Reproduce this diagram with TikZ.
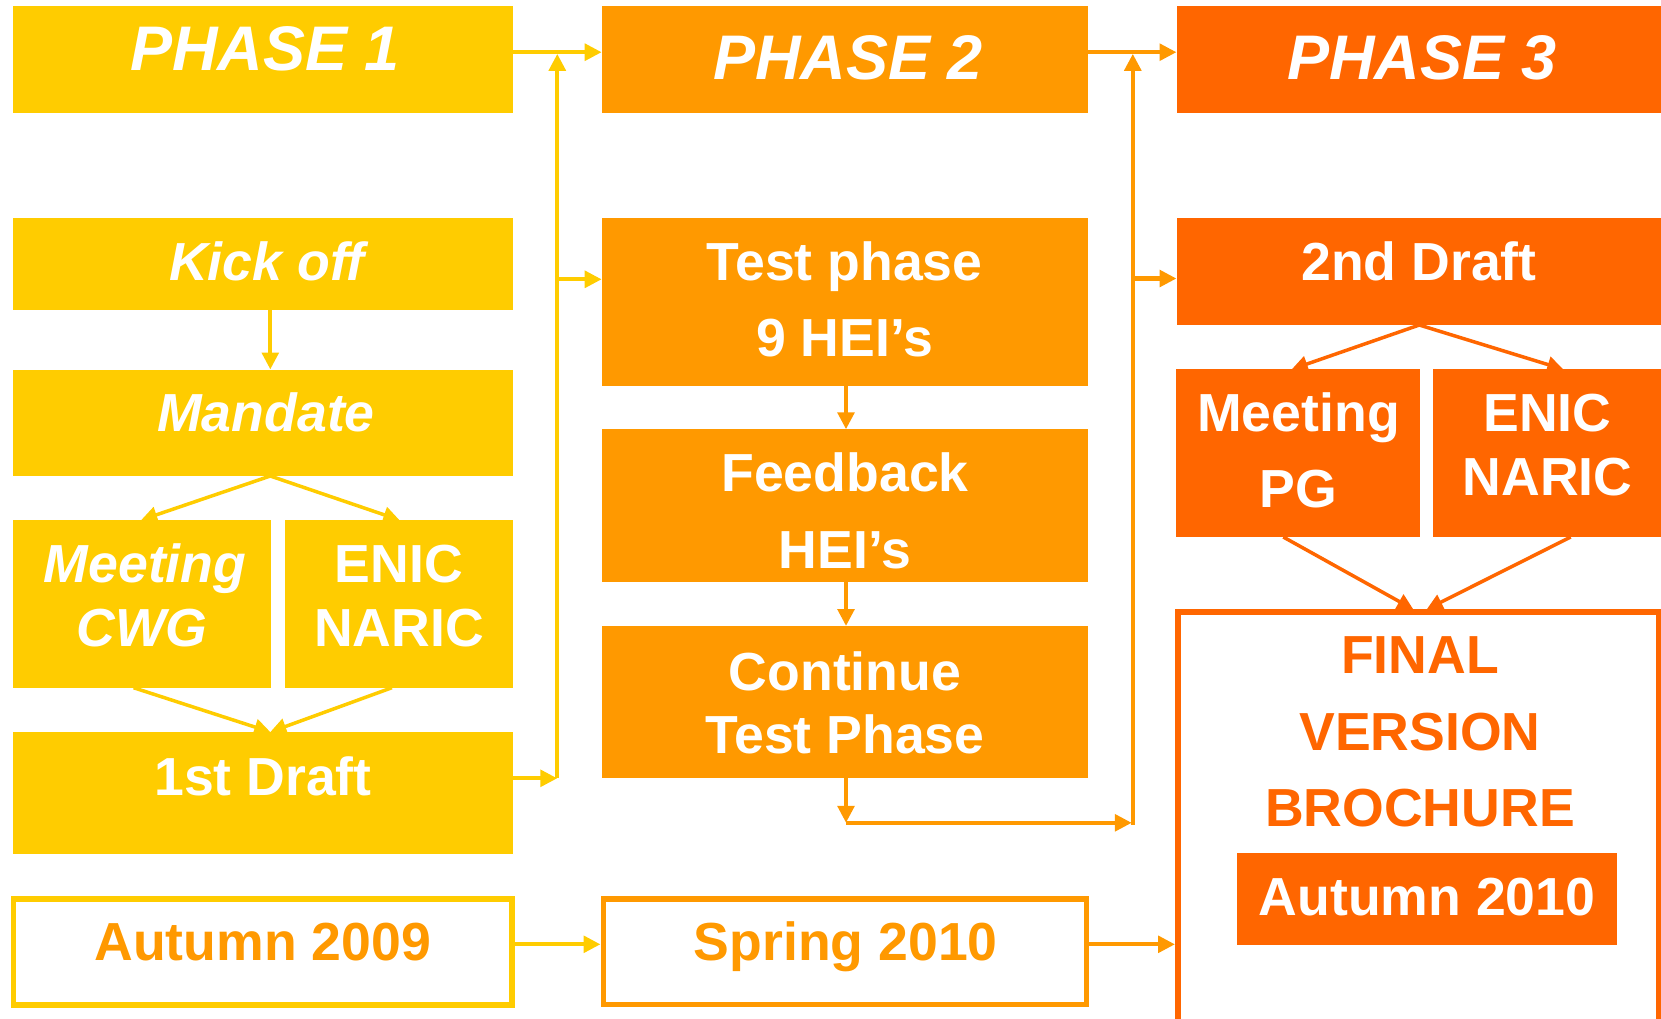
\documentclass[tikz,border=0pt]{standalone}
\usepackage{fontspec}
\setmainfont{Liberation Sans}
\usetikzlibrary{arrows.meta}
\definecolor{cA}{HTML}{FFCC00}
\definecolor{cB}{HTML}{FF9900}
\definecolor{cC}{HTML}{FF6600}
\begin{document}
\begin{tikzpicture}[x=1pt,y=-1pt,
  blk/.style={rectangle, inner sep=0pt, outer sep=0pt, anchor=north west, draw=none},
  obox/.style={rectangle, inner sep=0pt, line width=5.5pt, anchor=north west, fill=white},
  lbl/.style={anchor=base, inner sep=0pt, outer sep=0pt, text=white, font=\fontsize{53.6}{64}\selectfont\bfseries},
  ilbl/.style={lbl, font=\fontsize{53.6}{64}\selectfont\bfseries\itshape},
  hdr/.style={lbl, font=\fontsize{63}{70}\selectfont\bfseries\itshape},
  con/.style={line width=4.3pt, -{Triangle[length=17pt,width=16.5pt]}},
  sl/.style={line width=3.5pt, -{Triangle[length=16pt,width=16pt]}},
]
\useasboundingbox (0,0) rectangle (1661,1018);

% ---------- outlined boxes (anchor at outer corner) ----------
\node[obox, draw=cA, minimum width=498.7pt, minimum height=106pt] (aut09) at (10.5,896) {};
\node[obox, draw=cB, minimum width=483.4pt, minimum height=105.7pt] (spring) at (600.5,896) {};
\node[obox, draw=cC, minimum width=480.7pt, minimum height=410pt] (final) at (1175,609.3) {};

% ---------- filled boxes ----------
\node[blk, fill=cA, minimum width=500pt, minimum height=106.9pt] (p1) at (12.7,6.4) {};
\node[blk, fill=cB, minimum width=486.1pt, minimum height=106.9pt] (p2) at (601.7,6.4) {};
\node[blk, fill=cC, minimum width=484.5pt, minimum height=106.9pt] (p3) at (1176.5,6.4) {};

\node[blk, fill=cA, minimum width=500pt, minimum height=92pt] (kick) at (12.7,218) {};
\node[blk, fill=cA, minimum width=500pt, minimum height=106.5pt] (mandate) at (12.7,369.5) {};
\node[blk, fill=cA, minimum width=258.3pt, minimum height=167.7pt] (cwg) at (12.7,520) {};
\node[blk, fill=cA, minimum width=228pt, minimum height=167.7pt] (enic1) at (284.7,520) {};
\node[blk, fill=cA, minimum width=500pt, minimum height=122pt] (draft1) at (12.7,732) {};

\node[blk, fill=cB, minimum width=486.1pt, minimum height=168pt] (test) at (601.7,217.7) {};
\node[blk, fill=cB, minimum width=486.1pt, minimum height=153pt] (feedback) at (601.7,429.3) {};
\node[blk, fill=cB, minimum width=486.1pt, minimum height=152.3pt] (cont) at (601.7,626) {};

\node[blk, fill=cC, minimum width=484.5pt, minimum height=107.3pt] (draft2) at (1176.5,217.7) {};
\node[blk, fill=cC, minimum width=244pt, minimum height=167.7pt] (pg) at (1176,369.3) {};
\node[blk, fill=cC, minimum width=227.7pt, minimum height=167.7pt] (enic3) at (1433.3,369.3) {};
\node[blk, fill=cC, minimum width=379.4pt, minimum height=91.8pt] (aut10) at (1237.3,852.7) {};

% ---------- texts ----------
\node[hdr] (t-p1) at (265,70) {PHASE 1};
\node[hdr] (t-p2) at (848,79) {PHASE 2};
\node[hdr] (t-p3) at (1422,79) {PHASE 3};

\node[ilbl] (t-kick) at (267,280) {Kick off};
\node[ilbl] (t-mand) at (266,431.7) {Mandate};
\node[ilbl] (t-cwg1) at (145,582.7) {Meeting};
\node[ilbl] (t-cwg2) at (142,646.7) {CWG};
\node[lbl] (t-en1a) at (399,582.7) {ENIC};
\node[lbl] (t-en1b) at (399,646.7) {NARIC};
\node[lbl] (t-d1) at (263,795.5) {1st Draft};

\node[lbl] (t-test1) at (844.5,280.7) {Test phase};
\node[lbl] (t-test2) at (844.5,356.7) {9 HEI’s};
\node[lbl] (t-fb1) at (845,491.7) {Feedback};
\node[lbl] (t-fb2) at (845,568.3) {HEI’s};
\node[lbl] (t-ct1) at (845,690.7) {Continue};
\node[lbl] (t-ct2) at (845,753.2) {Test Phase};

\node[lbl] (t-d2) at (1419,280.7) {2nd Draft};
\node[lbl] (t-pg1) at (1298.5,431.7) {Meeting};
\node[lbl] (t-pg2) at (1298.5,507.7) {PG};
\node[lbl] (t-en3a) at (1547.5,431.7) {ENIC};
\node[lbl] (t-en3b) at (1547.5,495) {NARIC};

\node[lbl, text=cC] (t-f1) at (1420,673.3) {FINAL};
\node[lbl, text=cC] (t-f2) at (1420,750) {VERSION};
\node[lbl, text=cC] (t-f3) at (1420,826.7) {BROCHURE};
\node[lbl] (t-a10) at (1427,915) {Autumn 2010};

\node[lbl, text=cB] (t-a09) at (262.7,960.7) {Autumn 2009};
\node[lbl, text=cB] (t-sp) at (845.8,960.8) {Spring 2010};

% ---------- helper coordinates ----------
\coordinate (hTop) at (0,52.2);
\coordinate (hDate) at (0,944.3);
\coordinate (kx) at (270.3,0);
\coordinate (cwgIn) at (141.2,0);
\coordinate (enic1In) at (399.4,0);
\coordinate (cwgOut) at (133.6,0);
\coordinate (enic1Out) at (391.9,0);
\coordinate (cx) at (846,0);
\coordinate (d2x) at (1419.3,0);
\coordinate (pgIn) at (1291.7,0);
\coordinate (enic3In) at (1563.3,0);
\coordinate (pgOut) at (1283.3,0);
\coordinate (enic3Out) at (1570.7,0);
\coordinate (fL) at (1413.3,0);
\coordinate (fR) at (1426.7,0);
\coordinate (j1top) at (557.3,53.8);
\coordinate (j1bot) at (557.3,778.3);
\coordinate (j1mid) at (557.3,279.3);
\coordinate (j2top) at (1132.8,53.8);
\coordinate (j2bot) at (1132.8,822.8);
\coordinate (j2mid) at (1132.8,278.5);
\coordinate (c2drop) at (846,822.8);

% ---------- connectors: phase 1 ----------
\draw[con, cA] (p1.east |- hTop) -- (p2.west |- hTop);
\draw[con, cA] (draft1.east |- j1bot) -- (j1bot);
\draw[con, cA] (j1bot) -- (j1top);
\draw[con, cA] (j1mid) -- (test.west |- j1mid);
\draw[con, cA] (kick.south -| kx) -- (mandate.north -| kx);
\draw[sl, cA] (mandate.south -| kx) -- (cwg.north -| cwgIn);
\draw[sl, cA] (mandate.south -| kx) -- (enic1.north -| enic1In);
\draw[sl, cA] (cwg.south -| cwgOut) -- (draft1.north -| kx);
\draw[sl, cA] (enic1.south -| enic1Out) -- (draft1.north -| kx);
\draw[con, cA] (aut09.east |- hDate) -- (spring.west |- hDate);

% ---------- connectors: phase 2 ----------
\draw[con, cB] (p2.east |- hTop) -- (p3.west |- hTop);
\draw[con, cB] (test.south -| cx) -- (feedback.north -| cx);
\draw[con, cB] (feedback.south -| cx) -- (cont.north -| cx);
\draw[con, cB] (cont.south -| cx) -- (c2drop);
\draw[con, cB, shorten >=1pt] (c2drop) -- (j2bot);
\draw[con, cB] ([yshift=-2pt]j2bot) -- (j2top);
\draw[con, cB] (j2mid) -- (draft2.west |- j2mid);
\draw[con, cB] (spring.east |- hDate) -- (final.west |- hDate);

% ---------- connectors: phase 3 ----------
\draw[sl, cC] (draft2.south -| d2x) -- (pg.north -| pgIn);
\draw[sl, cC] (draft2.south -| d2x) -- (enic3.north -| enic3In);
\draw[sl, cC] (pg.south -| pgOut) -- (final.north -| fL);
\draw[sl, cC] (enic3.south -| enic3Out) -- (final.north -| fR);
\end{tikzpicture}
\end{document}
